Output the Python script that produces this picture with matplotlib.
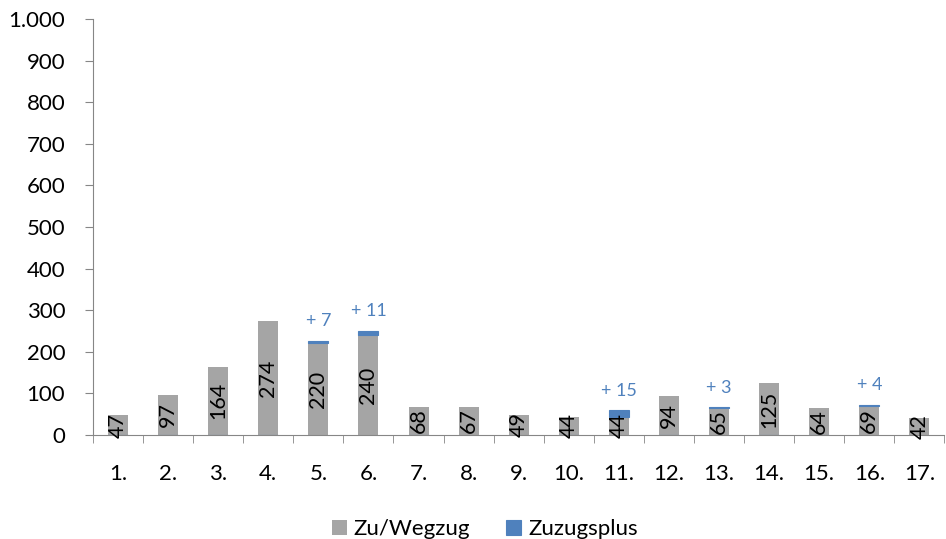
import matplotlib.pyplot as plt
import numpy as np

# data
categories = ["1.", "2.", "3.", "4.", "5.", "6.", "7.", "8.", "9.", "10.",
              "11.", "12.", "13.", "14.", "15.", "16.", "17."]
zu_wegzug = [47, 97, 164, 274, 220, 240, 68, 67, 49, 44, 44, 94, 65, 125, 64, 69, 42]
# nan = no value shown (no thin blue line in the original)
zuzugsplus = [0, 0, 0, 0, 7, 11, 0, np.nan, np.nan, 0, 15, 0, 3, 0, 0, 4, np.nan]
y_ticks = [0, 100, 200, 300, 400, 500, 600, 700, 800, 900, 1000]
y_labels = ["0", "100", "200", "300", "400", "500", "600", "700", "800", "900", "1.000"]

GREY = "#A5A5A5"
BLUE = "#4F81BD"
AXIS = "#868686"

plt.rcParams["font.family"] = ["Lato", "DejaVu Sans"]

fig = plt.figure(figsize=(9.46, 5.39), dpi=100)
ax = fig.add_axes([0.0983, 0.193, 0.9, 0.7717])

x = np.arange(len(categories))
grey = np.array(zu_wegzug, dtype=float)
plus = np.array(zuzugsplus, dtype=float)

ax.bar(x, grey, width=0.4, color=GREY, label="Zu/Wegzug", zorder=2)
# zero entries sit on the baseline, positive ones are stacked on top
bottoms = np.where(plus > 0, grey, 0)
ax.bar(x, plus, width=0.4, bottom=bottoms, color=BLUE, edgecolor=BLUE,
       linewidth=0.8, label="Zuzugsplus", zorder=3)

for xi, g in zip(x, grey):
    ax.text(xi, g / 2, f"{g:.0f}", rotation=90, ha="center", va="center",
            fontsize=15.5, color="black", zorder=4)

for xi, g, p in zip(x, grey, plus):
    if p > 0:
        ax.annotate(f"+ {p:.0f}", (xi, g + p), xytext=(0, 8),
                    textcoords="offset points", ha="center", va="bottom",
                    fontsize=13, color=BLUE)

ax.set_xlim(-0.5, len(categories) - 0.5)
ax.set_ylim(0, 1000)
ax.set_yticks(y_ticks)
ax.set_yticklabels(y_labels, fontsize=16)
ax.set_xticks(x)
ax.set_xticklabels(categories, fontsize=16)
ax.set_xticks(np.arange(len(categories) + 1) - 0.5, minor=True)
ax.tick_params(axis="x", which="major", length=0, pad=21)
ax.tick_params(axis="x", which="minor", length=6, color=AXIS, direction="out")
ax.tick_params(axis="y", length=6, color=AXIS, direction="out", pad=14)

for side in ["top", "right"]:
    ax.spines[side].set_visible(False)
for side in ["left", "bottom"]:
    ax.spines[side].set_color(AXIS)

ax.legend(loc="upper center", bbox_to_anchor=(0.46, -0.155), ncol=2,
          frameon=False, fontsize=16, handlelength=0.7, handleheight=0.7,
          handletextpad=0.3, columnspacing=1.6)

fig.savefig("out.png", dpi=100)
